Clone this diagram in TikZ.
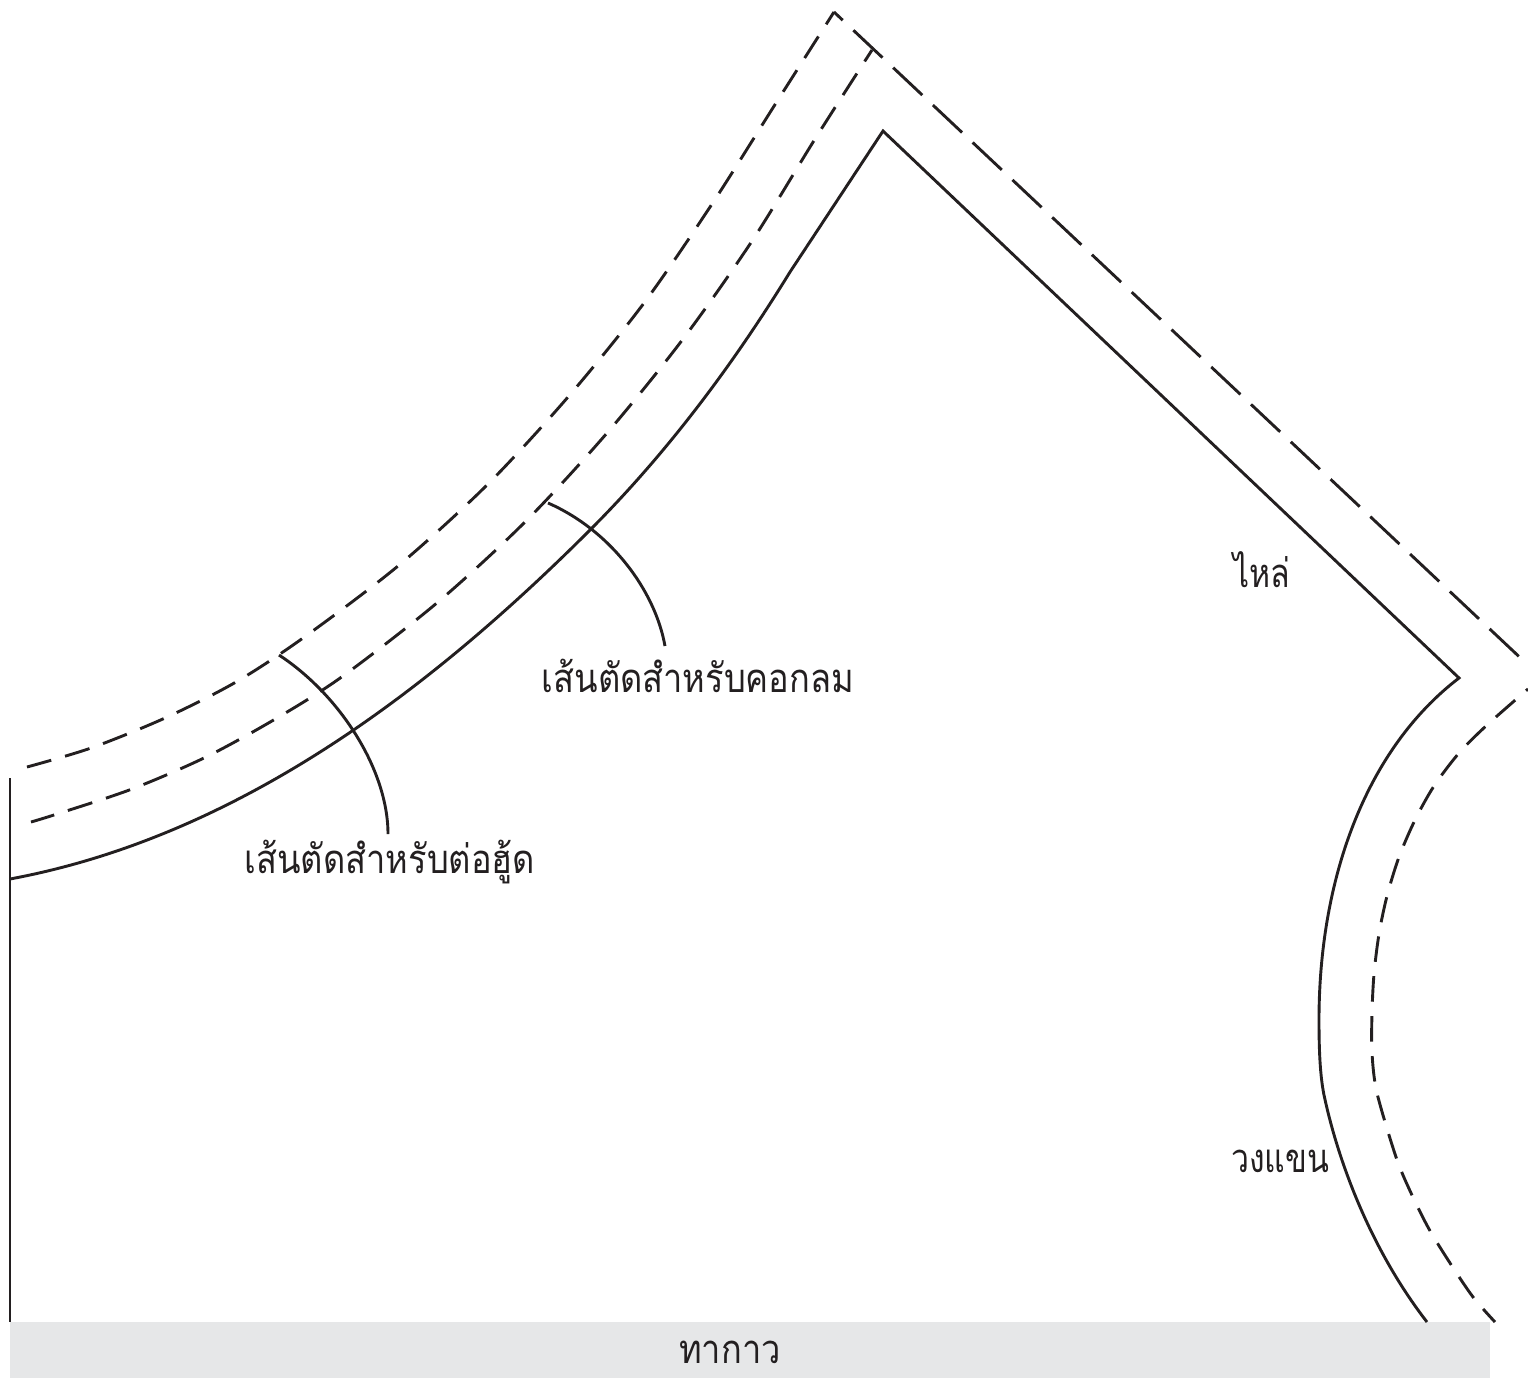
\documentclass[tikz,border=0pt]{standalone}
\usepackage{fontspec}
\newfontfamily\thaifont[Script=Thai]{Loma}
\definecolor{band}{HTML}{E6E7E8}
\definecolor{ink}{HTML}{231F20}
\tikzset{
  cutline/.style={draw=ink,line width=1.45pt},
  curvedash/.style={draw=ink,line width=1.45pt,dash pattern=on 12.8pt off 7.2pt},
  longdash/.style={draw=ink,line width=1.45pt,dash pattern=on 20pt off 7.3pt},
  leader/.style={draw=ink,line width=1.45pt},
  lbl/.style={text=ink,font=\thaifont\fontsize{20}{22}\selectfont,inner sep=0pt,transform shape,xscale=0.86},
}
\begin{document}
\begin{tikzpicture}[x=0.5pt,y=-0.5pt]
\useasboundingbox (0,0) rectangle (1528,1378);
\fill[band] (10,1322) rectangle (1490,1378);
\node[lbl] (glue) at (730,1352) {ทากาว};
\draw[cutline] (10,778) -- (10,1322);
% neckline, shoulder and armhole, solid
\draw[cutline] (10,879) .. controls (230,838) and (420,700) .. (590,530)
  .. controls (680,440) and (745,345) .. (790,272) -- (883,131) -- (1459,678)
  .. controls (1365,750) and (1319,880) .. (1319,1020)
  .. controls (1319,1050) and (1320,1075) .. (1324,1095)
  .. controls (1340,1170) and (1375,1255) .. (1427,1322);
% outer dashed line
\draw[curvedash,dash phase=5.5pt] plot[smooth,tension=0.5] coordinates {(834,12) (776,103) (712,204) (644,303) (568,397) (487,485) (398,566) (303,638) (236,682) (165,718) (91,748) (27,767)};
\draw[longdash,dash phase=14pt] (834,12) -- (1528,665);
% middle dashed line
\draw[curvedash,dash phase=6pt] plot[smooth,tension=0.5] coordinates {(872,50) (815,139) (752,241) (683,339) (607,433) (526,521) (438,602) (343,676) (277,718) (206,757) (132,789) (57,814) (31,822)};
% armhole dashed line
\draw[curvedash,dash phase=11.5pt] plot[smooth,tension=0.5] coordinates {(1528,689) (1487,725) (1459,753) (1434,786) (1415,820) (1399,857) (1387,896) (1379,934) (1374,974) (1372,1013) (1372,1053) (1377,1093) (1396,1157) (1411,1193) (1429,1229) (1450,1263) (1473,1297) (1495,1322)};
% labels
\node[lbl] (hood) at (390,862) {เส้นตัดสำหรับต่อฮู้ด};
\node[lbl] (crew) at (698,676) {เส้นตัดสำหรับคอกลม};
\node[lbl,xscale=0.93] (shoulder) at (1262,570) {ไหล่};
\node[lbl,xscale=0.93] (arm) at (1280,1161) {วงแขน};
% leaders
\coordinate (hoodstart) at (279,655);
\coordinate (crewstart) at (548,503);
\coordinate (hoodend) at (388,834);
\coordinate (crewend) at (665,646);
\draw[leader] (hoodstart) .. controls (340,695) and (388,770) .. (hoodend);
\draw[leader] (crewstart) .. controls (610,530) and (655,590) .. (crewend);
\end{tikzpicture}
\end{document}
